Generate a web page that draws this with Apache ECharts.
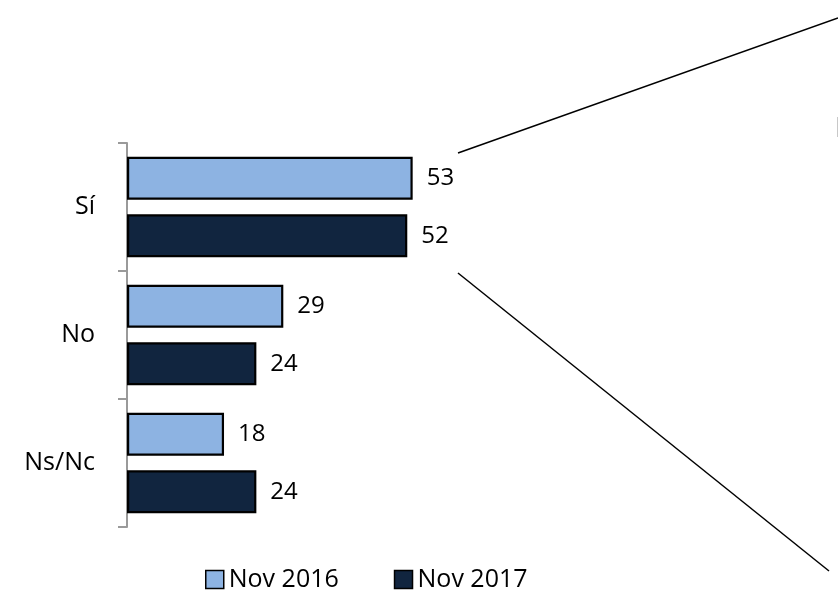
<!DOCTYPE html>
<html>
<head>
<meta charset="utf-8">
<script src="https://cdn.jsdelivr.net/npm/echarts@6/dist/echarts.min.js"></script>
<style>
  html, body { margin: 0; padding: 0; background: #fff; }
  #main { width: 838px; height: 590px; }
</style>
</head>
<body>
<div id="main"></div>
<script>
const categories = ['Sí', 'No', 'Ns/Nc']
const seriesNames = ['Nov 2016', 'Nov 2017']
const nov2016 = [53, 29, 18]
const nov2017 = [52, 24, 24]

const colors = ['#8DB3E2', '#11253F']
const font = '"Open Sans", "Noto Sans", sans-serif'

function barSeries(name, data, color) {
  return {
    name: name,
    type: 'bar',
    data: data,
    barWidth: 43,
    barGap: '34%',
    itemStyle: {
      color: color,
      borderColor: '#000',
      borderWidth: 2.2
    },
    label: {
      show: true,
      position: 'right',
      distance: 14,
      color: '#000',
      fontSize: 24,
      fontFamily: font
    },
    emphasis: { disabled: true }
  }
}

const chart = echarts.init(document.getElementById('main'))
chart.setOption({
  animation: false,
  textStyle: { fontFamily: font },
  grid: { left: 127, top: 143, width: 539, height: 384, containLabel: false },
  legend: {
    left: 200,
    top: 562,
    itemWidth: 18,
    itemHeight: 18,
    itemGap: 55,
    textStyle: { fontSize: 25, color: '#000', fontFamily: font },
    data: seriesNames.map((n, i) => ({
      name: n,
      icon: 'rect',
      itemStyle: { color: colors[i], borderColor: '#000', borderWidth: 1.5 }
    }))
  },
  xAxis: {
    type: 'value',
    min: 0,
    max: 100,
    show: false,
    splitLine: { show: false }
  },
  yAxis: {
    type: 'category',
    inverse: true,
    data: categories,
    axisLine: { show: true, lineStyle: { color: '#9A9A9A', width: 2 } },
    axisTick: { show: true, alignWithLabel: false, inside: false, length: 9, lineStyle: { color: '#9A9A9A', width: 2 } },
    axisLabel: { margin: 32, fontSize: 25, color: '#000', fontFamily: font }
  },
  graphic: [
    { type: 'line', shape: { x1: 458, y1: 153, x2: 838, y2: 18 }, style: { stroke: '#000', lineWidth: 1.5 } },
    { type: 'line', shape: { x1: 458, y1: 273, x2: 829, y2: 571 }, style: { stroke: '#000', lineWidth: 1.5 } },
    { type: 'line', shape: { x1: 837.5, y1: 117, x2: 837.5, y2: 137 }, style: { stroke: '#C8C8C8', lineWidth: 1 } }
  ],
  series: [
    barSeries(seriesNames[0], nov2016, colors[0]),
    barSeries(seriesNames[1], nov2017, colors[1])
  ]
})
</script>
</body>
</html>
